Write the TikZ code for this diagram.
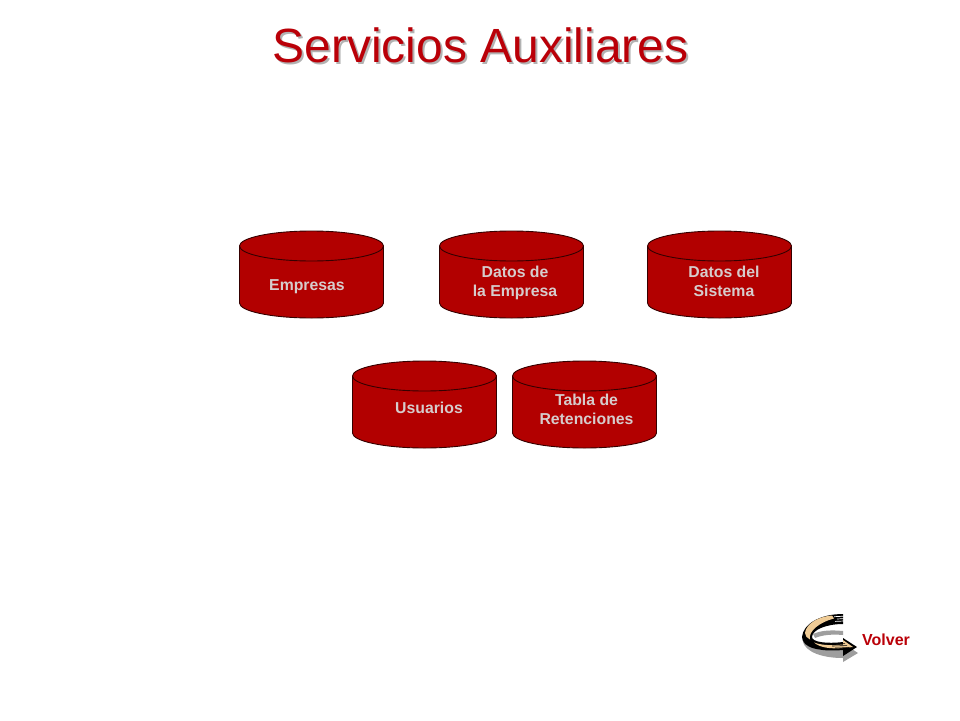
\documentclass[tikz,border=0pt]{standalone}
\usepackage{fontspec}
\setmainfont{Liberation Sans}
\definecolor{dbred}{RGB}{178,0,0}
\definecolor{dbtext}{RGB}{214,204,204}
\definecolor{titlered}{RGB}{186,0,8}
\definecolor{tan1}{RGB}{240,204,150}
\tikzset{
  dbtop/.style={fill=dbred,draw=black!70!dbred,line width=0.9pt},
  dblabel/.style={text=dbtext,font=\fontsize{15.8}{19}\selectfont\bfseries,align=center,inner sep=0pt},
  titletext/.style={font=\fontsize{48}{50}\selectfont,inner sep=0pt},
  streak/.style={white,line width=0.7pt},
  tanstreak/.style={tan1,line width=0.8pt},
}
\newcommand{\dbcyl}[2]{%
  \begin{scope}[shift={(#1,#2)}]
    \path[dbtop] (-72,0) -- (-72,57) arc[x radius=72,y radius=15,start angle=180,end angle=0] -- (72,0) arc[x radius=72,y radius=15,start angle=0,end angle=-180] -- cycle;
    \draw[dbtop,fill=none] (-72,0) arc[x radius=72,y radius=15,start angle=180,end angle=0];
  \end{scope}}
\begin{document}
\begin{tikzpicture}[x=1pt,y=-1pt]
\useasboundingbox (0,0) rectangle (960,720);
\fill[white] (0,0) rectangle (960,720);
% title, with its shadow set in the same node
\node[titletext,text=titlered] (title) at (480.5,46) {\rlap{\hspace{2pt}\raisebox{-2pt}{\textcolor{black!30}{Servicios Auxiliares}}}Servicios Auxiliares};
% cylinders
\dbcyl{311.5}{246}
\dbcyl{511.5}{246}
\dbcyl{719.5}{246}
\dbcyl{424.5}{376}
\dbcyl{584.5}{376}
\node[dblabel] (empresas) at (307,287) {Empresas};
\node[dblabel] (datosemp) at (515,283) {Datos de\\la Empresa};
\node[dblabel] (datossis) at (724,281.5) {Datos del\\Sistema};
\node[dblabel] (usuarios) at (429,407.5) {Usuarios};
\node[dblabel] (tabla) at (586.5,409.5) {Tabla de\\Retenciones};
% return arrow icon: shadow
\fill[black!38] (813,634) .. controls (822,630) and (832,630) .. (843,631) -- (843,635) .. controls (832,634) and (822,635) .. (815,638) -- cycle;
\fill[black!38] (803,642) .. controls (806,652) and (822,658) .. (843,658) -- (843,662) -- (858,653) -- (846,645) -- (820,650) -- cycle;
% body and head
\fill[black] (843,614) .. controls (820,614) and (803,624) .. (802,637)
  .. controls (802,648) and (820,652) .. (843,650) -- (843,656) -- (857,647) -- (843,638) -- (843,642)
  .. controls (826,644) and (812,642) .. (812,637) .. controls (812,630) and (826,624) .. (843,624) -- cycle;
% highlights
\fill[tan1] (832,615.5) .. controls (818,616.5) and (806,624) .. (805,633)
  .. controls (805,636) and (807,638) .. (810,639.5) .. controls (808,631) and (820,622) .. (834,618.5) -- cycle;
\fill[tan1] (814,642.5) .. controls (822,645.5) and (832,645.5) .. (843,644.5) -- (843,640) -- (853,647) -- (843,648) .. controls (832,649) and (820,648) .. (814,642.5) -- cycle;
% streaked ends
\draw[streak] (834,616.7) -- (844,616.2);
\draw[streak] (837,619) -- (844,618.6);
\draw[streak] (835,621.4) -- (844,621);
\draw[black,line width=0.6pt] (832,646) -- (847,645.6);
\draw[black,line width=0.6pt] (835,648) -- (849,647.6);
\draw[black,line width=0.6pt] (835,644) -- (845,643.6);
\node[font=\fontsize{16}{18}\selectfont\bfseries,text=titlered,inner sep=0pt] (volver) at (886,639.5) {Volver};
\end{tikzpicture}
\end{document}
